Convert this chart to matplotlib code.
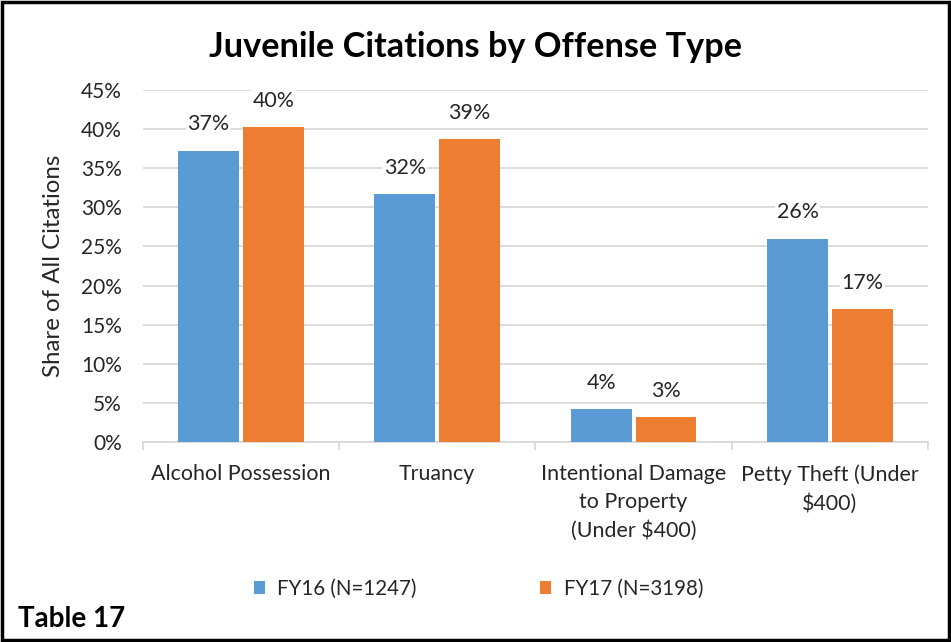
import matplotlib.pyplot as plt
import numpy as np
from matplotlib.patches import Rectangle

plt.rcParams["font.family"] = ["Lato", "DejaVu Sans"]

categories = [
    "Alcohol Possession",
    "Truancy",
    "Intentional Damage\nto Property\n(Under $400)",
    "Petty Theft (Under\n$400)",
]
fy16 = [37.2, 31.7, 4.2, 26.0]
fy17 = [40.2, 38.7, 3.2, 17.0]
labels16 = ["37%", "32%", "4%", "26%"]
labels17 = ["40%", "39%", "3%", "17%"]
series_names = ["FY16 (N=1247)", "FY17 (N=3198)"]

BLUE = "#5b9bd5"
ORANGE = "#ed7d31"
GRID = "#d9d9d9"
TXT = "#262626"

fig = plt.figure(figsize=(9.51, 6.42), dpi=100)
ax = fig.add_axes([0.150, 0.3115, 0.826, 0.5485])

x = np.arange(len(categories))
w = 0.31
gap = 0.01
b1 = ax.bar(x - w / 2 - gap, fy16, w, color=BLUE, label=series_names[0], zorder=3)
b2 = ax.bar(x + w / 2 + gap, fy17, w, color=ORANGE, label=series_names[1], zorder=3)

# value labels sit on a white box so the gridlines break behind them
for bars, labs in ((b1, labels16), (b2, labels17)):
    for bar, lab in zip(bars, labs):
        ax.text(bar.get_x() + bar.get_width() / 2, bar.get_height() + 2.1, lab,
                ha="center", va="bottom", fontsize=15.4, color=TXT, zorder=4,
                bbox=dict(facecolor="white", edgecolor="none", pad=1))

ax.set_xlim(-0.5, len(categories) - 0.5)
ax.set_ylim(0, 45)
ax.set_yticks(np.arange(0, 46, 5))
ax.set_yticklabels([f"{v}%" for v in range(0, 46, 5)], fontsize=15, color=TXT)
ax.yaxis.grid(True, color=GRID, linewidth=1.3, zorder=0)
ax.tick_params(axis="y", length=0, pad=15)

ax.set_xticks(x)
ax.set_xticklabels(categories, fontsize=15.4, color=TXT, linespacing=1.5)
ax.set_xticks(np.arange(-0.5, len(categories)), minor=True)
ax.tick_params(axis="x", which="major", length=0, pad=16)
ax.tick_params(axis="x", which="minor", length=6, color=GRID, width=1.3)

for s in ("top", "right", "left"):
    ax.spines[s].set_visible(False)
ax.spines["bottom"].set_color(GRID)
ax.spines["bottom"].set_linewidth(1.3)

ax.set_ylabel("Share of All Citations", fontsize=17.3, color=TXT, labelpad=12)

fig.text(0.5, 0.927, "Juvenile Citations by Offense Type", ha="center", va="center",
         fontsize=24.7, fontweight="bold", color="black")

fig.legend(handles=[b1, b2], loc="center", bbox_to_anchor=(0.503, 0.083), ncol=2,
           frameon=False, fontsize=14.8, handlelength=0.55, handleheight=0.55,
           handletextpad=0.6, columnspacing=6.0, labelcolor=TXT)

fig.text(0.019, 0.036, "Table 17", ha="left", va="center", fontsize=20,
         fontweight="bold", color="black")

fig.patches.append(Rectangle((0.002, 0.003), 0.996, 0.994, transform=fig.transFigure,
                             fill=False, edgecolor="black", linewidth=2.5))

fig.savefig("out.png", dpi=100)
